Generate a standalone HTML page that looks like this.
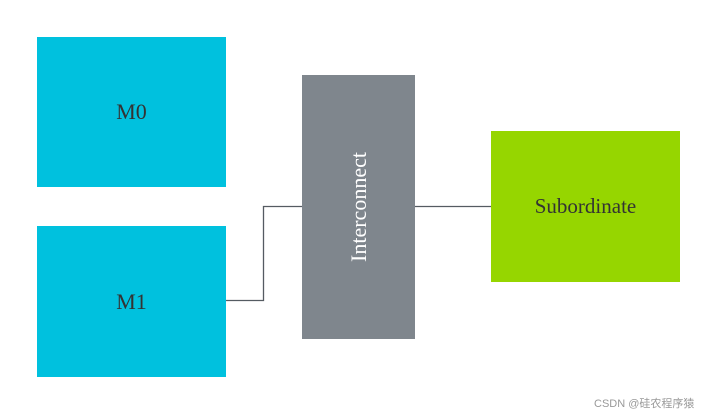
<!DOCTYPE html>
<html><head><meta charset="utf-8"><style>
body{margin:0;width:718px;height:415px;background:#fff;position:relative;overflow:hidden;font-family:"Liberation Serif",serif}
.b{position:absolute;display:flex;align-items:center;justify-content:center;color:#333;font-size:22px}
</style></head><body>
<div class="b" style="left:37px;top:37px;width:189px;height:150px;background:#00C1DE">M0</div>
<div class="b" style="left:37px;top:226px;width:189px;height:151px;background:#00C1DE">M1</div>
<div class="b" style="left:302px;top:75px;width:113px;height:264px;background:#7F868D"><span style="transform:rotate(-90deg);color:#fff;white-space:nowrap;font-size:22px">Interconnect</span></div>
<div class="b" style="left:491px;top:131px;width:189px;height:151px;background:#96D600;font-size:21px">Subordinate</div>
<svg width="718" height="415" style="position:absolute;left:0;top:0">
<polyline points="226,300.5 263.5,300.5 263.5,206.5 302,206.5" fill="none" stroke="#555b62" stroke-width="1.3"/>
<line x1="415" y1="206.5" x2="491" y2="206.5" stroke="#555b62" stroke-width="1.3"/>
</svg>
<div style="position:absolute;left:594px;top:395px;font-family:'Liberation Sans','Noto Sans CJK SC',sans-serif;font-size:11px;color:#999">CSDN @硅农程序猿</div>
</body></html>
